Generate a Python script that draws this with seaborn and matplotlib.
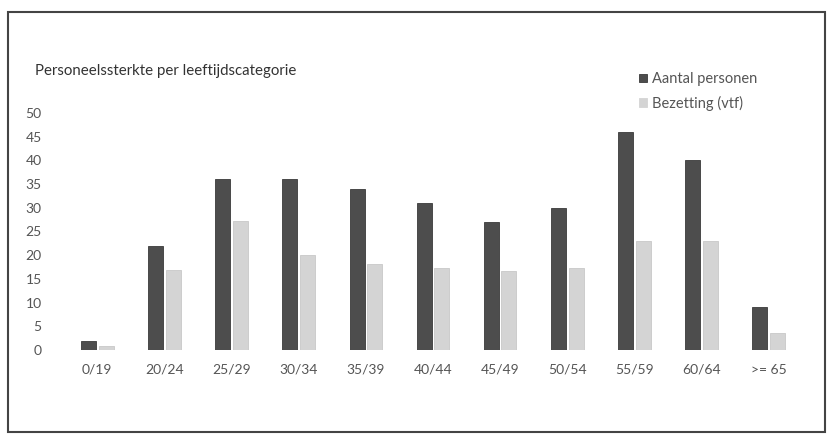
import seaborn as sns
import matplotlib.pyplot as plt
import pandas as pd
from matplotlib.patches import Rectangle

# Gegevens
categorieen = ['0/19', '20/24', '25/29', '30/34', '35/39', '40/44',
               '45/49', '50/54', '55/59', '60/64', '>= 65']
aantal_personen = [2, 22, 36, 36, 34, 31, 27, 30, 46, 40, 9]
bezetting_vtf = [0.8, 16.8, 27.3, 20.1, 18.2, 17.3, 16.6, 17.4, 23.1, 23.0, 3.5]
reeksen = ['Aantal personen', 'Bezetting (vtf)']
kleuren = ['#4d4d4d', '#d4d4d4']
y_ticks = list(range(0, 55, 5))

datos = pd.DataFrame({
    'categorie': categorieen * 2,
    'waarde': aantal_personen + bezetting_vtf,
    'reeks': [reeksen[0]] * len(categorieen) + [reeksen[1]] * len(categorieen),
})

sns.set_style('white')
plt.rcParams['font.family'] = ['Lato', 'DejaVu Sans']

fig = plt.figure(figsize=(8.29, 4.42), dpi=100)
ax = fig.add_axes([57 / 829, 1 - 350 / 442, 752 / 829, 237 / 442])

sns.barplot(data=datos, x='categorie', y='waarde', hue='reeks',
            palette=kleuren, width=0.52, gap=0.14, ax=ax,
            edgecolor='#3a3a3a', linewidth=0.6, legend=True)

# lichte balken zonder donkere rand
for bar in ax.containers[1]:
    bar.set_edgecolor('#c8c8c8')

ax.set_ylim(0, 50)
ax.set_xlim(-0.6, 10.6)
ax.set_yticks(y_ticks)
ax.set_xlabel('')
ax.set_ylabel('')
ax.tick_params(axis='y', length=0, pad=11, labelsize=10, labelcolor='#555555')
ax.tick_params(axis='x', length=0, pad=10, labelsize=10, labelcolor='#555555')
sns.despine(ax=ax, left=True, bottom=True)

# Titel
fig.text(35 / 829, 1 - 71 / 442, 'Personeelssterkte per leeftijdscategorie',
         fontsize=10.8, color='#333333', va='center', ha='left')

# Legenda
leg = ax.legend(loc='upper left', bbox_to_anchor=(626 / 829, 1 - 59 / 442),
                bbox_transform=fig.transFigure, frameon=False, fontsize=10.5,
                handlelength=0.55, handleheight=0.55, handletextpad=0.35,
                labelspacing=0.65, labelcolor='#555555')
leg.legend_handles[1].set_edgecolor('#d4d4d4')

# Kader rond de grafiek
fig.add_artist(Rectangle((8 / 829, 10 / 442), 817 / 829, 420 / 442,
                         transform=fig.transFigure, fill=False,
                         edgecolor='#444444', linewidth=1.5))

plt.savefig('out.png', dpi=100)
